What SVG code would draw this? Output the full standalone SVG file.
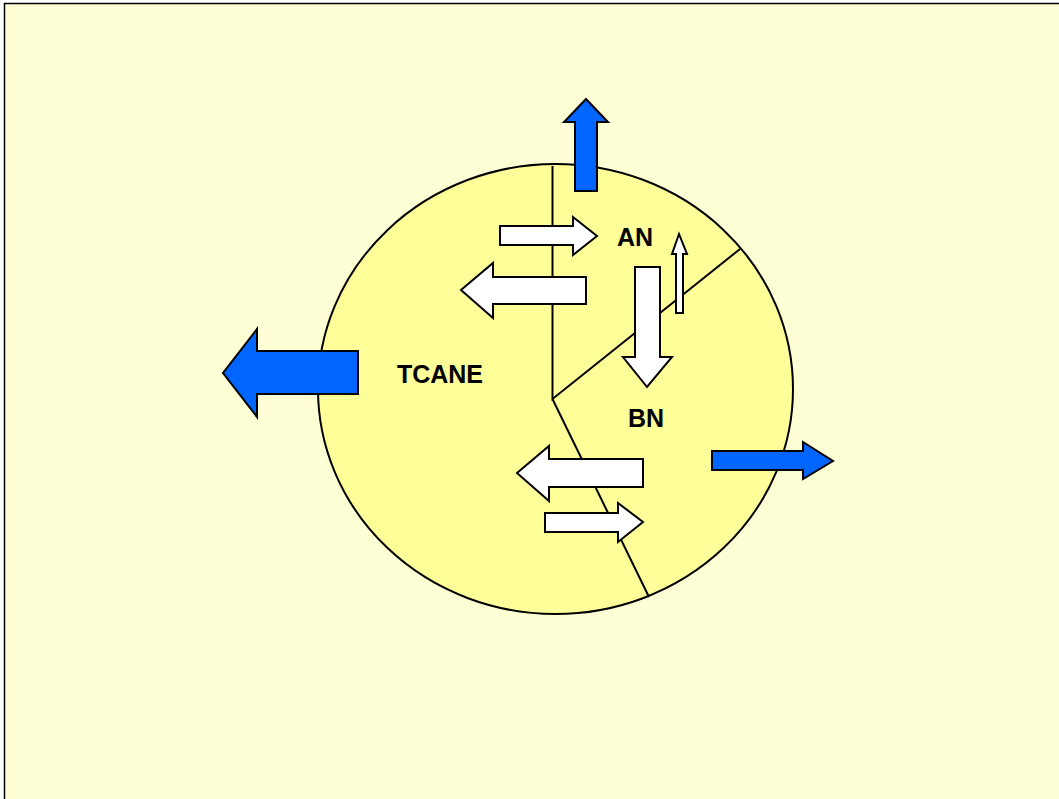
<svg xmlns="http://www.w3.org/2000/svg" width="1059" height="799" viewBox="0 0 1059 799">
<style>
.lbl{font-family:"Liberation Sans",Arial,sans-serif;font-weight:bold;font-size:25px;fill:#000;text-anchor:middle}
.blue{fill:#0066FF;stroke:#000;stroke-width:2;stroke-linejoin:miter}
.white{fill:#FFFFFF;stroke:#000;stroke-width:2;stroke-linejoin:miter}
.div{fill:none;stroke:#000;stroke-width:2}
</style>
<rect x="0" y="0" width="1059" height="799" fill="#FFFFFF"/>
<rect x="4.5" y="3.5" width="1060" height="800" fill="#FFFFD5" stroke="#000" stroke-width="1.5"/>
<g id="circle">
<ellipse cx="555.5" cy="389" rx="237.5" ry="225" fill="#FFFF99" stroke="#000" stroke-width="2"/>
</g>
<g id="connectors">
<path class="div" d="M552.5,166 L552.5,399 L740,249"/>
<path class="div" d="M552.5,399 L649,597"/>
</g>
<g id="arrow-up-blue">
<polygon class="blue" points="575,191 575,122 564,122 586,99 608,122 597,122 597,191"/>
</g>
<g id="arrow-left-blue">
<polygon class="blue" points="358,351 257,351 257,329 223,373 257,417 257,394 358,394"/>
</g>
<g id="arrow-right-blue">
<polygon class="blue" points="712,451 803,451 803,442 833,461 803,479 803,470 712,470"/>
</g>
<g id="arrow-an-in">
<polygon class="white" points="500,226 573,226 573,217 597,236 573,255 573,245 500,245"/>
</g>
<g id="arrow-an-out">
<polygon class="white" points="586,277 493,277 493,263 461,290 493,318 493,304 586,304"/>
</g>
<g id="arrow-an-bn">
<polygon class="white" points="635,267 660,267 660,357 672,357 647,387 623,357 635,357"/>
</g>
<g id="arrow-bn-an">
<polygon class="white" points="676,313 676,254 672,254 679,234 687,254 683,254 683,313"/>
</g>
<g id="arrow-bn-out">
<polygon class="white" points="643,459 549,459 549,446 517,473 549,501 549,487 643,487"/>
</g>
<g id="arrow-bn-in">
<polygon class="white" points="545,513 618,513 618,503 643,522 618,542 618,532 545,532"/>
</g>
<g id="label-an"><text class="lbl" x="635" y="246">AN</text></g>
<g id="label-bn"><text class="lbl" x="646" y="427">BN</text></g>
<g id="label-tcane"><text class="lbl" x="440" y="383">TCANE</text></g>
</svg>
